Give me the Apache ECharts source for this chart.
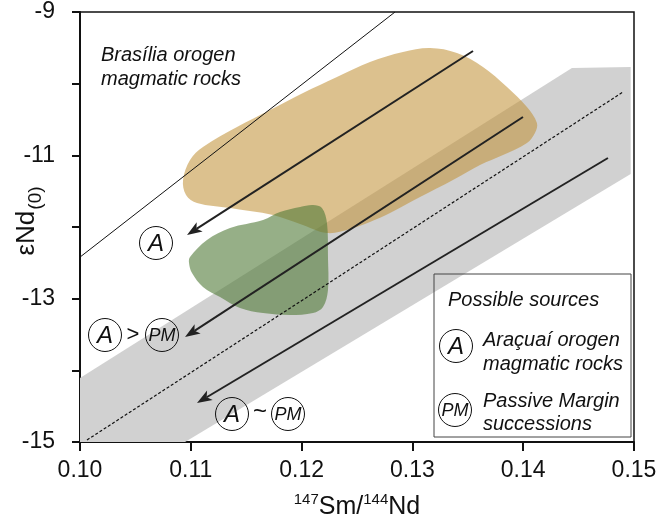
<!DOCTYPE html>
<html><head><meta charset="utf-8">
<script src="https://cdn.jsdelivr.net/npm/echarts@6/dist/echarts.min.js"></script>
<style>html,body{margin:0;padding:0;background:#fff}#c{width:659px;height:518px}</style>
</head><body><div id="c"></div>
<script>
// ---- data ----
const xTickValues = [0.10, 0.11, 0.12, 0.13, 0.14, 0.15];
const yLabelValues = [-9, -11, -13, -15];
const grayBand = [[0.100,-14.107],[0.1444,-9.781],[0.1497,-9.767],[0.1497,-11.26],[0.10948,-15],[0.100,-15]];
const brasiliaField = [
  [0.10930,-11.344],[0.10993,-11.065],[0.11110,-10.884],[0.11417,-10.605],[0.11715,-10.367],
  [0.12013,-10.130],[0.12319,-9.907],[0.12617,-9.698],[0.12915,-9.558],[0.13159,-9.502],
  [0.13402,-9.572],[0.13637,-9.767],[0.13854,-10.046],[0.14034,-10.326],[0.14124,-10.549],
  [0.14106,-10.688],[0.14034,-10.828],[0.13818,-10.995],[0.13610,-11.135],[0.13366,-11.344],
  [0.13069,-11.581],[0.12798,-11.805],[0.12617,-11.930],[0.12437,-12.028],[0.12229,-12.084],
  [0.11986,-11.958],[0.11742,-11.833],[0.11354,-11.735],[0.11056,-11.665],[0.10957,-11.553]
];
const greenField = [
  [0.10993,-12.419],[0.11146,-12.181],[0.11354,-12.014],[0.11652,-11.902],[0.11805,-11.791],
  [0.11986,-11.721],[0.12103,-11.693],[0.12184,-11.735],[0.12229,-11.944],[0.12238,-12.419],
  [0.12238,-12.879],[0.12193,-13.116],[0.12103,-13.200],[0.11895,-13.228],[0.11652,-13.200],
  [0.11444,-13.130],[0.11264,-12.977],[0.11110,-12.837],[0.11011,-12.642],[0.10984,-12.502]
];
const referenceLine = [[0.100,-12.42],[0.12843,-9.0]];
const dashedLine = [[0.10063,-14.972],[0.14901,-10.116]];
const arrows = [
  [0.13547,-9.544,0.10966,-12.111],
  [0.13998,-10.465,0.10948,-13.535],
  [0.14765,-11.037,0.11056,-14.456]
];

const FONT = '"Liberation Sans", Arial, sans-serif';

function polygonSeries(pts, fill, z, smooth) {
  return {
    type: 'custom', z: z, silent: true, clip: true,
    data: [[pts[0][0], pts[0][1]]], encode: {x: 0, y: 1},
    renderItem: function (params, api) {
      return {type: 'polygon', shape: {points: pts.map(p => api.coord(p)), smooth: smooth || 0},
              style: {fill: fill}};
    }
  };
}

function badge(cx, cy, txt, fs) {
  return {type: 'group', z: 100, children: [
    {type: 'circle', z: 100, shape: {cx: cx, cy: cy, r: 16.5}, style: {fill: 'none', stroke: '#111', lineWidth: 1}},
    {type: 'text', z: 101, style: {text: txt, x: cx, y: cy + 1, align: 'center', verticalAlign: 'middle',
      fontSize: fs, fontStyle: 'italic', fontFamily: FONT, fill: '#111'}}
  ]};
}
function label(x, y, txt, opts) {
  return {type: 'text', z: 100, style: Object.assign({text: txt, x: x, y: y, align: 'left', verticalAlign: 'middle',
    fontSize: 20, fontStyle: 'italic', fontFamily: FONT, fill: '#111'}, opts || {})};
}

const chart = echarts.init(document.getElementById('c'));
chart.setOption({
  animation: false,
  backgroundColor: '#fff',
  grid: {left: 80, right: 25, top: 12, bottom: 76, show: true, borderColor: '#111', borderWidth: 1.5,
         backgroundColor: 'transparent', containLabel: false, outerBoundsMode: 'none'},
  xAxis: {
    type: 'value', min: 0.10, max: 0.15, interval: 0.01,
    axisLine: {show: true, lineStyle: {color: '#111', width: 2}},
    axisTick: {show: true, inside: false, length: 9, lineStyle: {color: '#111', width: 2}},
    splitLine: {show: false},
    axisLabel: {show: true, margin: 17, color: '#111', fontSize: 23, fontFamily: FONT,
      showMinLabel: true, showMaxLabel: true,
      formatter: v => { const t = xTickValues.find(a => Math.abs(a - v) < 1e-6); return t === undefined ? '' : t.toFixed(2); }},
    name: '{s|147}{m|Sm/}{s|144}{m|Nd}', nameLocation: 'middle', nameGap: 50,
    nameTextStyle: {rich: {
      s: {fontSize: 15, fontFamily: FONT, color: '#111', verticalAlign: 'top', lineHeight: 15},
      m: {fontSize: 25, fontFamily: FONT, color: '#111', verticalAlign: 'top', lineHeight: 27, padding: [3, 0, 0, 0]}
    }}
  },
  yAxis: {
    type: 'value', min: -15, max: -9, interval: 1,
    axisLine: {show: true, lineStyle: {color: '#111', width: 2}},
    axisTick: {show: true, inside: false, length: 8, lineStyle: {color: '#111', width: 2}},
    splitLine: {show: false},
    axisLabel: {show: true, margin: 25, color: '#111', fontSize: 23, fontFamily: FONT,
      showMinLabel: true, showMaxLabel: true,
      formatter: v => yLabelValues.some(a => Math.abs(a - v) < 1e-6) ? String(Math.round(v)) : ''}
  },
  series: [
    polygonSeries(grayBand, '#d1d1d1', 1, 0),
    polygonSeries(brasiliaField, 'rgba(194,146,56,0.57)', 2, 0.35),
    polygonSeries(greenField, 'rgba(80,122,55,0.6)', 3, 0.35),
    {type: 'line', data: referenceLine, symbol: 'none', z: 4, silent: true,
     lineStyle: {color: '#111', width: 1}},
    {type: 'line', data: dashedLine, symbol: 'none', z: 4, silent: true,
     lineStyle: {color: '#111', width: 1.2, type: [3, 2]}},
    {type: 'custom', z: 5, silent: true, data: arrows, encode: {x: [0, 2], y: [1, 3]},
     renderItem: function (params, api) {
       const p1 = api.coord([api.value(0), api.value(1)]);
       const p2 = api.coord([api.value(2), api.value(3)]);
       const dx = p2[0] - p1[0], dy = p2[1] - p1[1], L = Math.hypot(dx, dy);
       const ux = dx / L, uy = dy / L, nx = -uy, ny = ux;
       const hl = 15, hw = 5.5;
       const bx = p2[0] - ux * hl, by = p2[1] - uy * hl;
       const notch = [p2[0] - ux * hl * 0.75, p2[1] - uy * hl * 0.75];
       return {type: 'group', children: [
         {type: 'line', shape: {x1: p1[0], y1: p1[1], x2: notch[0], y2: notch[1]}, style: {stroke: '#222', lineWidth: 2}},
         {type: 'polygon', shape: {points: [p2, [bx + nx * hw, by + ny * hw], notch, [bx - nx * hw, by - ny * hw]]},
          style: {fill: '#222'}}
       ]};
     }}
  ],
  graphic: [
    {type: 'text', z: 100, x: 28, y: 221, rotation: Math.PI / 2,
     style: {text: '{a|εNd}{b|(0)}', align: 'center', verticalAlign: 'middle', fill: '#111',
       rich: {
         a: {fontSize: 26, fontFamily: FONT, fill: '#111', verticalAlign: 'top', lineHeight: 28},
         b: {fontSize: 19, fontFamily: FONT, fill: '#111', verticalAlign: 'top', lineHeight: 22, padding: [12, 0, 0, 1]}
       }}},
    label(101, 55, 'Brasília orogen'),
    label(101, 79, 'magmatic rocks'),
    badge(156, 243, 'A', 24),
    badge(105, 335, 'A', 24),
    label(133, 335, '>', {align: 'center', fontStyle: 'normal', fontSize: 22}),
    badge(162, 335, 'PM', 18),
    badge(232, 414, 'A', 24),
    label(260, 412, '~', {align: 'center', fontStyle: 'normal', fontSize: 24}),
    badge(288, 414, 'PM', 18),
    {type: 'rect', z: 100, shape: {x: 434, y: 274, width: 197, height: 163}, style: {fill: 'none', stroke: '#444', lineWidth: 1}},
    label(448, 300, 'Possible sources'),
    badge(456, 346, 'A', 24),
    label(483, 340, 'Araçuaí orogen'),
    label(483, 364, 'magmatic rocks'),
    badge(455, 410, 'PM', 18),
    label(483, 401, 'Passive Margin'),
    label(483, 424, 'successions')
  ]
});
</script>
</body></html>
